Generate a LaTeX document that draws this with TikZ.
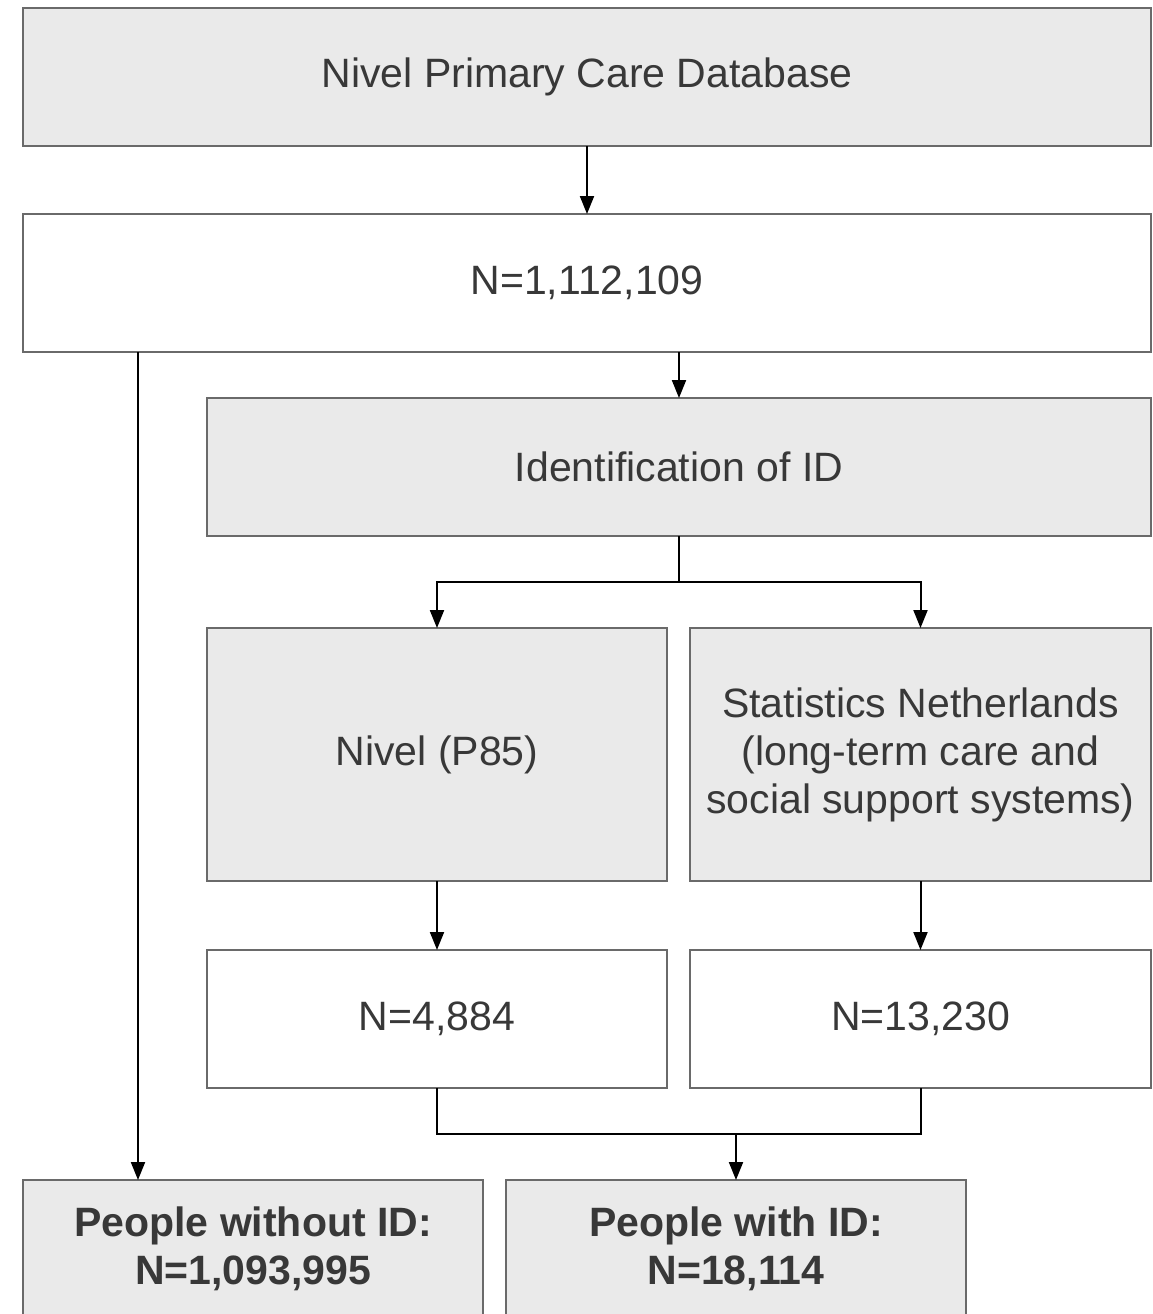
\documentclass[tikz,border=0pt]{standalone}
\usepackage{fontspec}
\setmainfont{Liberation Sans}
\usetikzlibrary{arrows.meta}
\definecolor{boxfill}{HTML}{EAEAEA}
\definecolor{boxline}{HTML}{6A6A6A}
\definecolor{txt}{HTML}{383838}
\tikzset{
  box/.style={draw=boxline, line width=1pt, inner sep=0pt, outer sep=0pt, align=center,
    text=txt, font=\fontsize{20.5pt}{24pt}\selectfont, minimum height=69pt},
  grey/.style={box, fill=boxfill},
  white/.style={box, fill=white},
  conn/.style={line width=1pt, black},
  arr/.style={conn, -{Triangle[length=9pt,width=7pt]}}
}
\begin{document}
\begin{tikzpicture}[x=0.5pt,y=-0.5pt]
\useasboundingbox (0,0) rectangle (1153,1314);
\clip (-2,-2) rectangle (1155,1314);
\node[grey, minimum width=564pt] (db) at (587,77) {Nivel Primary Care Database};
\node[white, minimum width=564pt] (all) at (587,283) {N=1,112,109};
\node[grey, minimum width=472pt] (ident) at (679,467) {Identification of ID};
\node[grey, minimum width=230pt, minimum height=126.5pt] (nivel) at (437,754.5) {Nivel (P85)};
\node[grey, minimum width=230.5pt, minimum height=126.5pt] (cbs) at (920.5,754.5) {Statistics Netherlands\\(long-term care and\\social support systems)};
\node[white, minimum width=230pt] (n1) at (437,1019) {N=4,884};
\node[white, minimum width=230.5pt] (n2) at (920.5,1019) {N=13,230};
\node[grey, minimum width=230pt, font=\fontsize{20.5pt}{24pt}\selectfont\bfseries] (without) at (253,1249) {People without ID:\\N=1,093,995};
\node[grey, minimum width=230pt, font=\fontsize{20.5pt}{24pt}\selectfont\bfseries] (with) at (736,1249) {People with ID:\\N=18,114};
\coordinate (split) at (679,582);
\coordinate (merge) at (736,1134);
\coordinate (left) at (138,352);
\draw[arr] (db.south) -- (all.north);
\draw[arr] (all.south -| ident.north) -- (ident.north);
\draw[conn] (ident.south) -- (split);
\draw[arr] (split) -| (nivel.north);
\draw[arr] (split) -| (cbs.north);
\draw[arr] (nivel.south) -- (n1.north);
\draw[arr] (cbs.south) -- (n2.north);
\draw[conn] (n1.south) |- (merge) -| (n2.south);
\draw[arr] (merge) -- (with.north);
\draw[arr] (left) -- (left |- without.north);
\end{tikzpicture}
\end{document}
